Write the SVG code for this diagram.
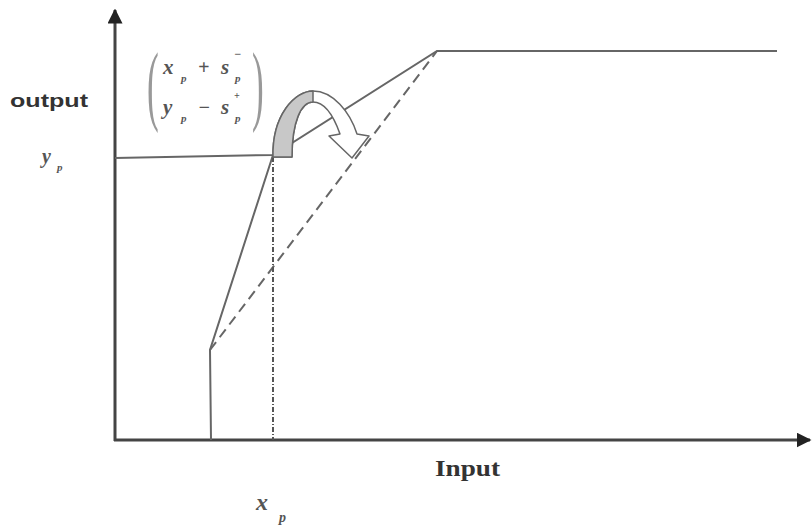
<svg xmlns="http://www.w3.org/2000/svg" width="812" height="525" viewBox="0 0 812 525">
<defs>
<style>
.ax{stroke:#444;stroke-width:3;fill:none}
.ln{stroke:#666;stroke-width:2;fill:none}
.dash{stroke:#666;stroke-width:2;fill:none;stroke-dasharray:10,6}
.dd{stroke:#555;stroke-width:2;fill:none;stroke-dasharray:5,2,1,2}
.m{font-family:"Liberation Serif",serif;font-style:italic;font-weight:bold;fill:#555}
.lbl{font-family:"Liberation Sans",sans-serif;font-weight:bold;fill:#333}
</style>
<marker id="ah" viewBox="0 0 10 10" refX="9" refY="5" markerWidth="5" markerHeight="5" orient="auto" markerUnits="strokeWidth">
<path d="M0,0 L10,5 L0,10 Z" fill="#222"/>
</marker>
</defs>
<rect width="812" height="525" fill="#fff"/>
<g id="axes">
<line class="ax" x1="115" y1="441" x2="115" y2="10" marker-end="url(#ah)"/>
<line class="ax" x1="114" y1="440" x2="810" y2="440" marker-end="url(#ah)"/>
</g>
<g id="connectors">
<polyline class="ln" points="115,158 273,155 437,51 777,51"/>
<polyline class="ln" points="211,440 210,350 273,155"/>
<line class="dash" x1="210" y1="350" x2="437" y2="51"/>
<line class="dd" x1="273" y1="157" x2="273" y2="440"/>
</g>
<g id="curved-arrow">
<path d="M273,157 C272,115 295,91 313,91 C333,91 350,112 357,134 L369,136 L352,158 L329,136 L340,134 C334,117 325,102 313,102 C301,102 292,122 292,157 Z" fill="#fff" stroke="#666" stroke-width="1.5" stroke-linejoin="round"/>
<path d="M273,157 C272,115 295,91 313,91 L313,102 C301,102 292,122 292,157 Z" fill="#c8c8c8" stroke="#666" stroke-width="1.5" stroke-linejoin="round"/>
</g>
<g id="matrix">
<text font-family="Liberation Serif,serif" font-size="88" transform="translate(147,114) scale(0.4,1)" fill="#999">(</text>
<text font-family="Liberation Serif,serif" font-size="88" transform="translate(252,114) scale(0.4,1)" fill="#999">)</text>
<text class="m" font-size="21" x="163" y="74">x</text>
<text class="m" font-size="11" x="181" y="82">p</text>
<text class="m" font-style="normal" font-size="20" x="198" y="74">+</text>
<text class="m" font-size="21" x="221" y="74">s</text>
<text class="m" font-style="normal" font-size="12" x="234" y="58">−</text>
<text class="m" font-size="11" x="235" y="82">p</text>
<text class="m" font-size="21" x="163" y="114">y</text>
<text class="m" font-size="11" x="181" y="122">p</text>
<text class="m" font-style="normal" font-size="20" x="198" y="114">−</text>
<text class="m" font-size="21" x="221" y="114">s</text>
<text class="m" font-style="normal" font-size="10" x="234" y="99">+</text>
<text class="m" font-size="11" x="235" y="122">p</text>
</g>
<g id="labels">
<text class="lbl" font-size="19" x="10" y="107" textLength="78" lengthAdjust="spacingAndGlyphs">output</text>
<text class="m" font-size="20" x="42" y="163">y</text>
<text class="m" font-size="11" x="57" y="171">p</text>
<text font-family="Liberation Serif,serif" font-weight="bold" font-size="24" fill="#333" x="435" y="476" textLength="65" lengthAdjust="spacingAndGlyphs">Input</text>
<text class="m" font-weight="normal" font-size="24" x="256" y="510">x</text>
<text class="m" font-weight="normal" font-size="14" x="279" y="522">p</text>
</g>
</svg>
